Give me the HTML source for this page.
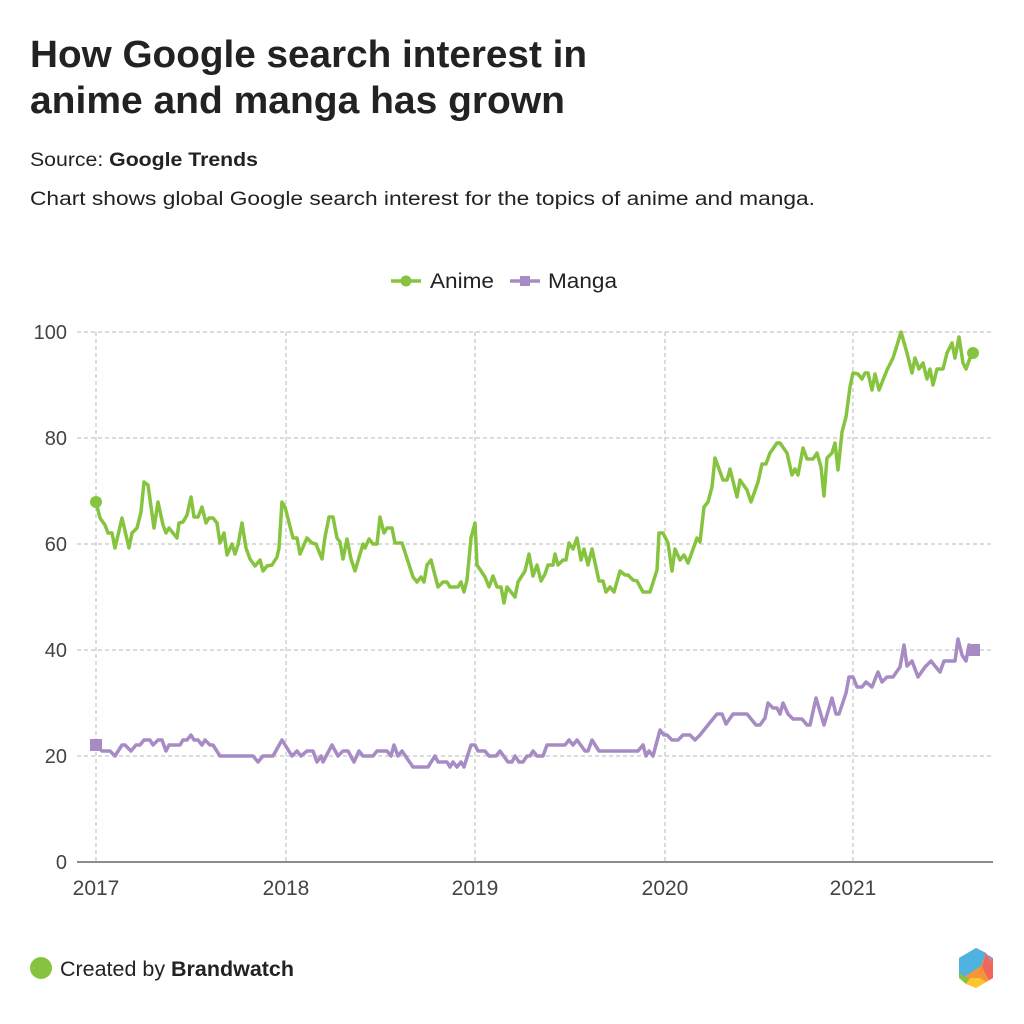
<!DOCTYPE html>
<html><head><meta charset="utf-8"><style>
html,body{margin:0;padding:0;background:#fff;}
svg{display:block;}
text{font-family:"Liberation Sans",Arial,sans-serif;}
</style></head><body>
<svg width="1024" height="1024" viewBox="0 0 1024 1024" xmlns="http://www.w3.org/2000/svg">
<rect width="1024" height="1024" fill="#fff"/>
<text x="30" y="67" font-size="38" font-weight="bold" fill="#222" textLength="557" lengthAdjust="spacingAndGlyphs">How Google search interest in</text>
<text x="30" y="113" font-size="38" font-weight="bold" fill="#222" textLength="535" lengthAdjust="spacingAndGlyphs">anime and manga has grown</text>
<text x="30" y="166" font-size="19" fill="#222" textLength="228" lengthAdjust="spacingAndGlyphs">Source: <tspan font-weight="bold">Google Trends</tspan></text>
<text x="30" y="205" font-size="19" fill="#222" textLength="785" lengthAdjust="spacingAndGlyphs">Chart shows global Google search interest for the topics of anime and manga.</text>

<!-- legend -->
<line x1="391" y1="281" x2="421" y2="281" stroke="#86c440" stroke-width="3.5"/>
<circle cx="406" cy="281" r="5.5" fill="#86c440"/>
<text x="430" y="288" font-size="21" fill="#222" textLength="64" lengthAdjust="spacingAndGlyphs">Anime</text>
<line x1="510" y1="281" x2="540" y2="281" stroke="#a68bc4" stroke-width="3.5"/>
<rect x="520" y="276" width="10" height="10" fill="#a68bc4"/>
<text x="548" y="288" font-size="21" fill="#222" textLength="69" lengthAdjust="spacingAndGlyphs">Manga</text>

<!-- grid -->
<g stroke="#c8c8c8" stroke-width="1.3" stroke-dasharray="4,3" fill="none">
<line x1="77" y1="332" x2="993" y2="332"/>
<line x1="77" y1="438" x2="993" y2="438"/>
<line x1="77" y1="544" x2="993" y2="544"/>
<line x1="77" y1="650" x2="993" y2="650"/>
<line x1="77" y1="756" x2="993" y2="756"/>
<line x1="96" y1="332" x2="96" y2="862"/>
<line x1="286" y1="332" x2="286" y2="862"/>
<line x1="475" y1="332" x2="475" y2="862"/>
<line x1="665" y1="332" x2="665" y2="862"/>
<line x1="853" y1="332" x2="853" y2="862"/>
</g>
<line x1="77" y1="862" x2="993" y2="862" stroke="#666" stroke-width="1.6"/>

<g font-size="20" fill="#444" text-anchor="end">
<text x="67" y="339">100</text>
<text x="67" y="445">80</text>
<text x="67" y="551">60</text>
<text x="67" y="657">40</text>
<text x="67" y="763">20</text>
<text x="67" y="869">0</text>
</g>
<g font-size="21" fill="#444" text-anchor="middle">
<text x="96" y="895">2017</text>
<text x="286" y="895">2018</text>
<text x="475" y="895">2019</text>
<text x="665" y="895">2020</text>
<text x="853" y="895">2021</text>
</g>

<!-- manga -->
<polyline fill="none" stroke="#a68bc4" stroke-width="3.5" stroke-linejoin="round" stroke-linecap="round" points="96,745 102,751 110,751 115,756 122,745 125,745 131,751 136,745 140,745 144,740 150,740 153,745 158,740 162,740 166,751 169,745 180,745 183,740 187,740 191,735 194,740 198,740 202,745 205,740 210,745 213,745 220,756 253,756 258,762 263,756 273,756 282,740 292,756 297,751 301,756 307,751 313,751 317,762 321,756 323,762 332,745 338,756 343,751 348,751 354,762 359,751 363,756 373,756 377,751 387,751 391,756 394,745 398,756 402,751 413,767 428,767 435,756 438,762 447,762 450,767 453,762 457,767 461,762 464,767 471,745 475,745 478,751 485,751 489,756 496,756 500,751 508,762 512,762 515,756 519,762 523,762 527,756 530,756 533,751 537,756 543,756 547,745 565,745 569,740 573,745 577,740 585,751 588,751 592,740 599,751 638,751 643,745 646,756 649,751 653,756 660,730 664,735 667,735 672,740 678,740 683,735 690,735 695,740 700,735 708,725 717,714 722,714 726,724 733,714 747,714 756,725 760,725 765,718 768,703 773,708 777,708 780,714 783,703 788,714 793,719 802,719 807,725 810,725 816,698 824,725 832,698 836,714 839,714 846,693 849,677 853,677 857,687 862,687 866,682 872,687 878,672 882,682 887,677 893,677 900,667 904,645 907,666 912,661 918,677 925,667 931,661 935,666 940,672 944,661 955,661 958,639 962,655 966,661 969,645 974,650"/>
<rect x="90" y="739" width="12" height="12" fill="#a68bc4"/>
<rect x="968" y="644" width="12" height="12" fill="#a68bc4"/>

<!-- anime -->
<polyline fill="none" stroke="#86c440" stroke-width="3.5" stroke-linejoin="round" stroke-linecap="round" points="96,502 100,518 105,525 108,533 112,533 115,548 122,518 129,548 132,533 137,528 141,512 144,482 148,485 154,528 158,502 163,525 166,533 169,528 177,538 179,523 183,522 187,515 191,497 194,517 198,517 202,507 206,523 209,518 213,518 217,523 220,543 224,533 227,555 232,544 235,554 238,545 242,523 246,548 250,559 255,566 260,560 263,571 267,566 272,565 277,557 279,548 282,502 285,507 293,538 297,538 300,554 307,538 312,543 316,544 322,559 325,537 329,517 333,517 337,538 340,542 343,559 347,539 351,559 355,571 363,544 365,548 369,539 373,544 377,544 380,517 384,533 387,528 392,528 395,543 402,543 413,577 417,582 421,577 424,582 427,565 431,560 438,587 443,582 447,582 450,587 458,587 461,582 464,592 467,580 471,538 475,523 477,565 485,577 489,587 493,576 497,587 501,587 504,603 507,587 515,597 518,582 525,571 529,554 533,576 537,565 541,581 545,574 548,565 553,565 555,554 558,565 563,560 566,560 569,543 573,549 577,538 581,560 584,549 588,565 592,549 599,581 603,581 606,592 610,587 614,592 620,571 625,575 628,575 633,580 637,581 643,592 650,592 657,570 659,533 663,533 668,543 672,571 675,549 680,560 684,555 688,563 692,552 697,538 700,542 704,507 708,502 712,487 715,458 723,480 727,480 730,469 737,497 740,480 747,490 751,502 758,482 762,464 766,464 770,453 777,443 780,443 787,453 792,475 795,469 798,475 803,448 807,459 813,459 817,453 821,467 824,496 827,458 832,453 835,443 838,470 842,432 846,417 850,387 853,373 858,374 862,379 865,373 868,373 872,390 875,374 879,390 887,370 893,358 898,342 901,332 907,353 912,373 915,358 919,369 923,363 927,379 930,369 933,385 937,369 943,369 947,353 952,343 955,358 959,337 963,363 966,369 970,358 973,353"/>
<circle cx="96" cy="502" r="6" fill="#86c440"/>
<circle cx="973" cy="353" r="6" fill="#86c440"/>

<!-- footer -->
<circle cx="41" cy="968" r="11" fill="#86c440"/>
<text x="60" y="976" font-size="21" fill="#222" textLength="234" lengthAdjust="spacingAndGlyphs">Created by <tspan font-weight="bold">Brandwatch</tspan></text>

<!-- logo -->
<g>
<polygon points="976,948 993,958 993,978 976,988 959,978 959,958" fill="#f7943a"/>
<polygon points="959,958 976,948 986,953 981,966 964,977 959,974" fill="#4fb3e0"/>
<polygon points="976,948 993,958 990,962 986,953" fill="#a68bc4"/>
<polygon points="986,953 990,962 993,958 993,978 989,980 982,967" fill="#f0665a"/>
<polygon points="966,984 976,988 986,982 980,978 970,978" fill="#fec42e"/>
<polygon points="959,972 964,977 970,978 966,984 959,978" fill="#86c440"/>
</g>
</svg>
</body></html>
